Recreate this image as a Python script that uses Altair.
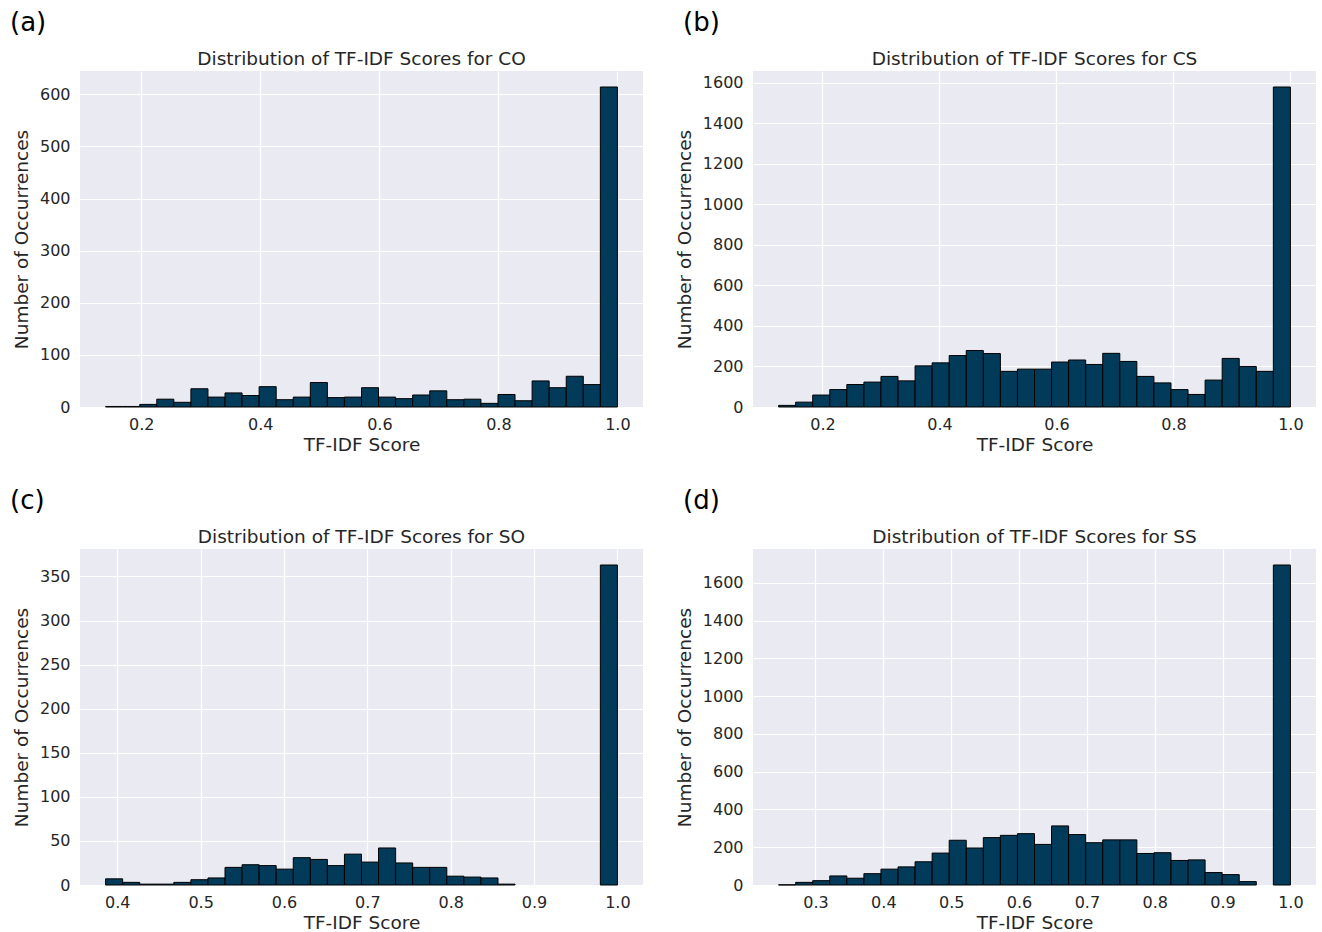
import altair as alt
import numpy as np
import pandas as pd

# ---- data (counts per histogram bin, 30 bins each) ----
co_counts = [1, 1, 5, 15, 9, 35, 19, 27, 22, 39, 14, 19, 47, 18, 19,
             37, 19, 16, 23, 31, 14, 15, 7, 24, 12, 50, 37, 59, 43, 614]
co_range = [0.140, 1.0]

cs_counts = [8, 24, 59, 86, 111, 123, 151, 129, 203, 218, 254, 279, 264, 176, 187,
             187, 222, 232, 210, 265, 225, 151, 119, 86, 62, 133, 240, 200, 176, 1580]
cs_range = [0.125, 1.0]

so_counts = [7, 3, 1, 1, 3, 6, 8, 20, 23, 22, 18, 31, 29, 22, 35,
             26, 42, 25, 20, 20, 10, 9, 8, 1, 0, 0, 0, 0, 0, 363]
so_range = [0.386, 1.0]

ss_counts = [1, 14, 23, 48, 36, 60, 84, 96, 123, 169, 237, 196, 251, 263, 272,
             215, 313, 267, 224, 239, 239, 167, 171, 130, 133, 66, 55, 18, 0, 1695]
ss_range = [0.2456, 1.0]

panel_letters = ["(a)", "(b)", "(c)", "(d)"]
panel_titles = ["Distribution of TF-IDF Scores for CO",
                "Distribution of TF-IDF Scores for CS",
                "Distribution of TF-IDF Scores for SO",
                "Distribution of TF-IDF Scores for SS"]

xticks_ab = [0.2, 0.4, 0.6, 0.8, 1.0]
xticks_c = [0.4, 0.5, 0.6, 0.7, 0.8, 0.9, 1.0]
xticks_d = [0.3, 0.4, 0.5, 0.6, 0.7, 0.8, 0.9, 1.0]
yticks_a = [0, 100, 200, 300, 400, 500, 600]
yticks_b = [0, 200, 400, 600, 800, 1000, 1200, 1400, 1600]
yticks_c = [0, 50, 100, 150, 200, 250, 300, 350]
yticks_d = [0, 200, 400, 600, 800, 1000, 1200, 1400, 1600]

BAR = "#023b59"
TXT = "#262626"
FONT = "DejaVu Sans"
W, H = 563, 336


def panel(counts, rng, letter, title, xticks, yticks, anchor=False):
    lo, hi = rng
    edges = np.linspace(lo, hi, len(counts) + 1)
    df = pd.DataFrame({"start": edges[:-1], "end": edges[1:], "count": counts})
    span = hi - lo
    xdom = [lo - 0.05 * span, hi + 0.05 * span]
    ydom = [0, max(counts) * 1.05]

    bars = alt.Chart(df).transform_filter("datum.count > 0").mark_rect(
        fill=BAR, stroke="black", strokeWidth=1
    ).encode(
        x=alt.X("start:Q", scale=alt.Scale(domain=xdom, nice=False, zero=False),
                axis=alt.Axis(values=xticks, format=".1f", title="TF-IDF Score")),
        x2="end:Q",
        y=alt.Y("count:Q", scale=alt.Scale(domain=ydom, nice=False),
                axis=alt.Axis(values=yticks, format="d", title="Number of Occurrences")),
        y2=alt.datum(0),
    )
    lab = alt.Chart(pd.DataFrame({"t": [letter]})).mark_text(
        font=FONT, fontSize=26, color="black", align="left", baseline="alphabetic"
    ).encode(text="t:N", x=alt.value(-70), y=alt.value(-40))
    ttl = alt.Chart(pd.DataFrame({"t": [title]})).mark_text(
        font=FONT, fontSize=18.5, color=TXT, align="center", baseline="alphabetic"
    ).encode(text="t:N", x=alt.value(W / 2), y=alt.value(-6))
    layers = [bars, lab, ttl]
    if anchor:
        guide = alt.Chart(pd.DataFrame({"t": [0]})).mark_rule(strokeOpacity=0).encode(
            x=alt.value(-80), x2=alt.value(-79), y=alt.value(-71), y2=alt.value(-70))
        layers.append(guide)
    return alt.layer(*layers).properties(width=W, height=H)


a = panel(co_counts, co_range, panel_letters[0], panel_titles[0], xticks_ab, yticks_a, anchor=True)
b = panel(cs_counts, cs_range, panel_letters[1], panel_titles[1], xticks_ab, yticks_b)
c = panel(so_counts, so_range, panel_letters[2], panel_titles[2], xticks_c, yticks_c)
d = panel(ss_counts, ss_range, panel_letters[3], panel_titles[3], xticks_d, yticks_d)

chart = alt.concat(a, b, c, d, columns=2, spacing={"row": 142, "column": 110},
                   bounds="flush").properties(
    padding=0, background="white"
).configure_view(
    fill="#EAEAF2", strokeWidth=0
).configure_axis(
    grid=True, gridColor="white", gridWidth=1.2, domain=False, ticks=False,
    labelFont=FONT, titleFont=FONT, labelFontSize=16, titleFontSize=18.5,
    labelColor=TXT, titleColor=TXT, titleFontWeight="normal",
    labelFlush=False, labelOverlap=False
).configure_axisX(
    labelPadding=9, titlePadding=3
).configure_axisY(
    labelPadding=10, titlePadding=8
)

chart.save("out.html", embed_options={"renderer": "svg", "actions": False})
